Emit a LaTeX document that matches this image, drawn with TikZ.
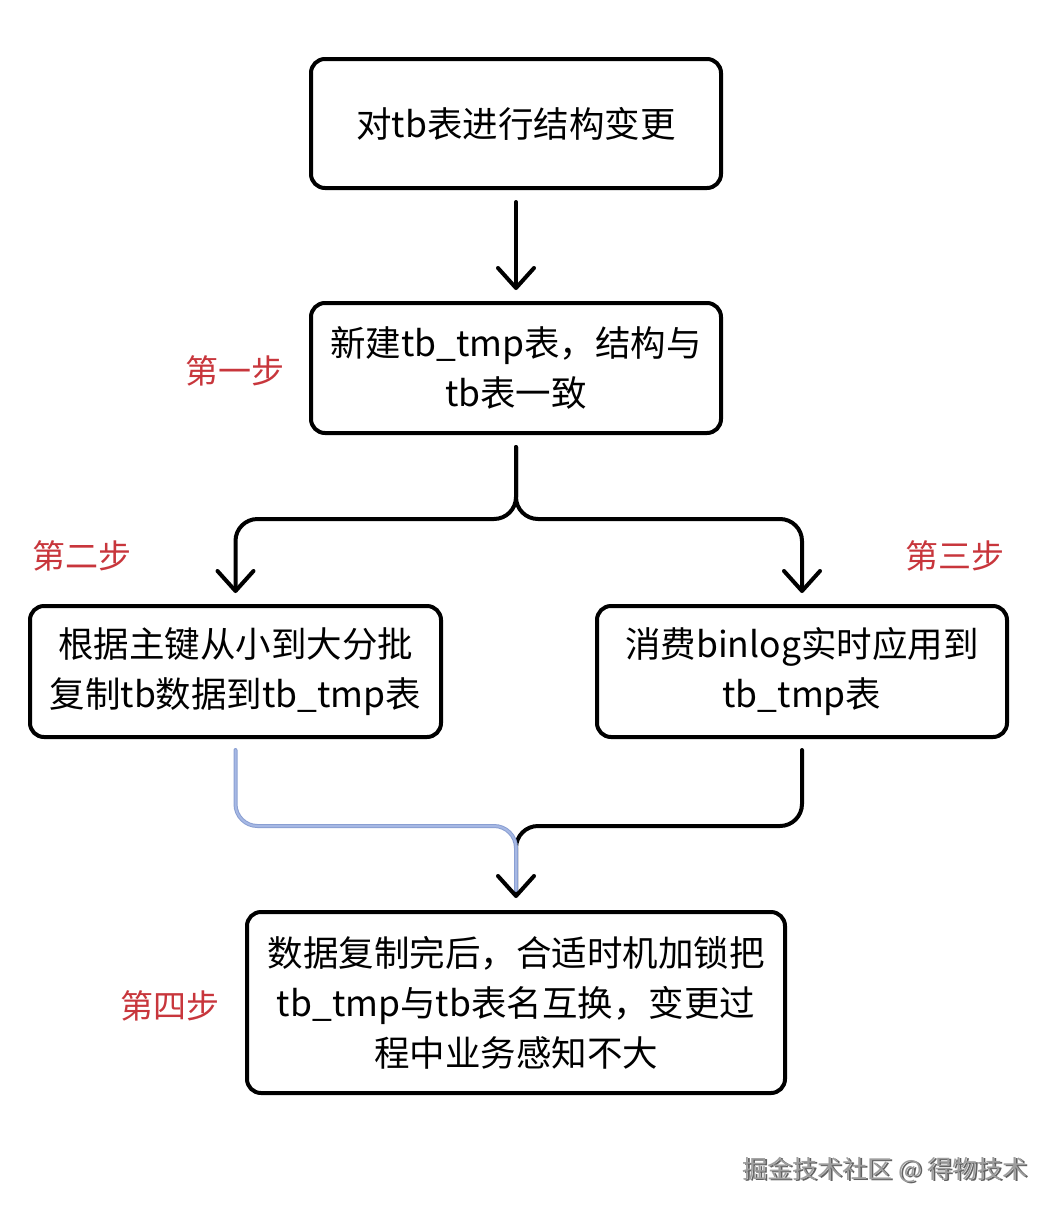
\documentclass[tikz,border=0pt]{standalone}
\usepackage{fontspec}
\newfontfamily\cjk{Noto Sans CJK SC}
\usetikzlibrary{arrows.meta}
\definecolor{lblred}{HTML}{C8363C}
\definecolor{mergeblue}{HTML}{A6B8E4}
\definecolor{mergeedge}{HTML}{8A9FD2}
\begin{document}
\begin{tikzpicture}[x=1pt,y=-1pt,
  stepbox/.style={draw=black,line width=4pt,rounded corners=14pt,align=center,
     font=\cjk\fontsize{35.5}{50}\selectfont,inner sep=0pt},
  conn/.style={draw=black,line width=4pt,line cap=round,line join=round,rounded corners=22pt},
  tip/.style={-{Straight Barb[length=20pt,width=36pt,line cap=round,line join=round]}},
  steplbl/.style={text=lblred,font=\cjk\fontsize{33}{38}\selectfont,inner sep=0pt}]
\useasboundingbox[fill=white] (0,0) rectangle (1058,1216);

\node[stepbox,minimum width=410pt,minimum height=129pt] (b1) at (516,123.5) {\raisebox{-3pt}{对tb表进行结构变更}};
\node[stepbox,minimum width=410pt,minimum height=130pt] (b2) at (516,368) {新建tb\_tmp表，结构与\\tb表一致};
\node[stepbox,minimum width=411pt,minimum height=131pt] (b3) at (235.5,671.5) {根据主键从小到大分批\\复制tb数据到tb\_tmp表};
\node[stepbox,minimum width=410pt,minimum height=131pt] (b4) at (802,671.5) {消费binlog实时应用到\\tb\_tmp表};
\node[stepbox,minimum width=538pt,minimum height=181pt] (b5) at (516,1002.5) {数据复制完后，合适时机加锁把\\tb\_tmp与tb表名互换，变更过\\程中业务感知不大};

\node[steplbl] (l1) at (235,371) {第一步};
\node[steplbl] (l2) at (82,556) {第二步};
\node[steplbl] (l3) at (955,556) {第三步};
\node[steplbl] (l4) at (170,1006) {第四步};

\coordinate (fy) at (0,519);
\coordinate (my) at (0,826);

\draw[conn,tip,shorten <=12pt,shorten >=11pt] (b1.south) -- (b2.north);
\draw[conn,tip,shorten <=12pt,shorten >=11pt] (b2.south) -- (b2.south |- fy) -- (b3.north |- fy) -- (b3.north);
\draw[conn,tip,shorten <=12pt,shorten >=11pt] (b2.south) -- (b2.south |- fy) -- (b4.north |- fy) -- (b4.north);
\draw[conn,tip,shorten <=11pt,shorten >=12pt] (b4.south) -- (b4.south |- my) -- (b5.north |- my) -- (b5.north);
\draw[conn,draw=mergeedge,shorten <=11pt,shorten >=20pt] (b3.south) -- (b3.south |- my) -- (b5.north |- my) -- (b5.north);
\draw[conn,draw=mergeblue,line width=2pt,shorten <=11pt,shorten >=20pt] (b3.south) -- (b3.south |- my) -- (b5.north |- my) -- (b5.north);

\node[text=black!62,font=\cjk\fontsize{25}{30}\selectfont,inner sep=0pt,anchor=east] (wms) at (1029.5,1171.5) {掘金技术社区 @ 得物技术};
\node[text=black!38,font=\cjk\fontsize{25}{30}\selectfont,inner sep=0pt,anchor=east] (wm) at (1028,1170) {掘金技术社区 @ 得物技术};
\end{tikzpicture}
\end{document}
